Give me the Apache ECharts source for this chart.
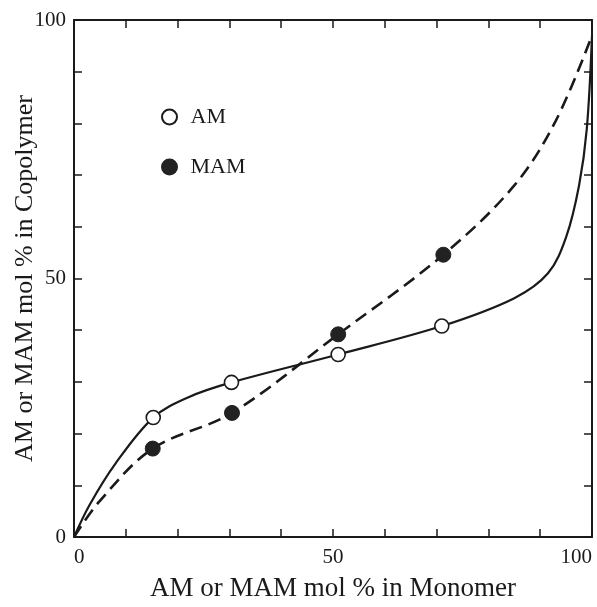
<!DOCTYPE html>
<html>
<head>
    <meta charset="utf-8">
    <title>AM / MAM copolymer composition</title>
    <script src="https://cdn.jsdelivr.net/npm/echarts@6/dist/echarts.min.js"></script>
</head>
<body style="height: 100%; margin: 0; background: #fff">
<div id="container" style="width: 597px; height: 607px"></div>
<script>
    // 测得的数据点 (monomer %, copolymer %)
    var amPoints = [[15.3, 23.1], [30.4, 29.9], [51, 35.3], [71, 40.8]];
    var mamPoints = [[15.2, 17.1], [30.5, 24.0], [51, 39.2], [71.3, 54.6]];

    // 曲线 (AM 实线, MAM 虚线)
    var amCurve = [[0, 0], [3, 6.2], [8, 14.2], [15.3, 23.1], [22, 27], [30.4, 29.9],
        [51, 35.3], [71, 40.8], [85, 46.2], [91.5, 51], [95, 58], [97.5, 68], [99, 79], [100, 97]];
    var mamCurve = [[0, 0], [5, 7], [15.2, 17.1], [30.5, 24.0],
        [51, 39.2], [71.3, 54.6], [85, 68], [93, 80.5], [100, 97]];

    var labelValues = [0, 50, 100];

    var myChart = echarts.init(document.getElementById('container'));

    var serif = 'Liberation Serif';
    var ink = '#1a1a1a';

    function tickLabel(v) {
        return labelValues.indexOf(v) >= 0 ? String(v) : '';
    }

    var boxAxis = {
        type: 'value',
        min: 0,
        max: 100,
        interval: 10,
        splitLine: {show: false},
        axisLine: {show: true, onZero: false, lineStyle: {color: ink, width: 2}},
        axisTick: {show: true, inside: true, length: 8, lineStyle: {color: ink, width: 1.5}}
    };

    option = {
        backgroundColor: '#fff',
        animation: false,
        grid: {left: 74, right: 5, top: 20, bottom: 70, outerBoundsMode: 'none', containLabel: false},
        legend: {
            orient: 'vertical',
            left: 156,
            top: 101,
            itemGap: 28,
            itemWidth: 32,
            itemHeight: 15,
            icon: 'circle',
            data: ['AM', 'MAM'],
            textStyle: {fontFamily: serif, fontSize: 22, color: ink}
        },
        xAxis: [
            Object.assign({}, boxAxis, {
                position: 'bottom',
                name: 'AM or MAM mol % in Monomer',
                nameLocation: 'middle',
                nameGap: 38,
                nameMoveOverlap: false,
                nameTextStyle: {fontFamily: serif, fontSize: 27, color: ink},
                axisLabel: {
                    formatter: tickLabel, fontFamily: serif, fontSize: 21, color: ink, margin: 10,
                    alignMinLabel: 'left', alignMaxLabel: 'right'
                }
            }),
            Object.assign({}, boxAxis, {position: 'top', axisLabel: {show: false}})
        ],
        yAxis: [
            Object.assign({}, boxAxis, {
                position: 'left',
                name: 'AM or MAM mol % in Copolymer',
                nameLocation: 'middle',
                nameGap: 36,
                nameMoveOverlap: false,
                nameTextStyle: {fontFamily: serif, fontSize: 26, color: ink},
                axisLabel: {formatter: tickLabel, fontFamily: serif, fontSize: 21, color: ink, margin: 8}
            }),
            Object.assign({}, boxAxis, {position: 'right', axisLabel: {show: false}})
        ],
        series: [
            {
                name: 'AM curve',
                type: 'line',
                data: amCurve,
                smooth: 0.35,
                showSymbol: false,
                lineStyle: {color: ink, width: 2.2},
                z: 2
            },
            {
                name: 'MAM curve',
                type: 'line',
                data: mamCurve,
                smooth: 0.35,
                showSymbol: false,
                lineStyle: {color: ink, width: 2.6, type: [13, 7]},
                z: 2
            },
            {
                name: 'AM',
                type: 'scatter',
                data: amPoints,
                symbolSize: 14,
                itemStyle: {color: '#fff', borderColor: ink, borderWidth: 1.6, opacity: 1},
                z: 5
            },
            {
                name: 'MAM',
                type: 'scatter',
                data: mamPoints,
                symbolSize: 15,
                itemStyle: {color: '#222', borderColor: '#222', borderWidth: 1, opacity: 1},
                z: 5
            }
        ]
    };

    myChart.setOption(option, true);
</script>
</body>
</html>
